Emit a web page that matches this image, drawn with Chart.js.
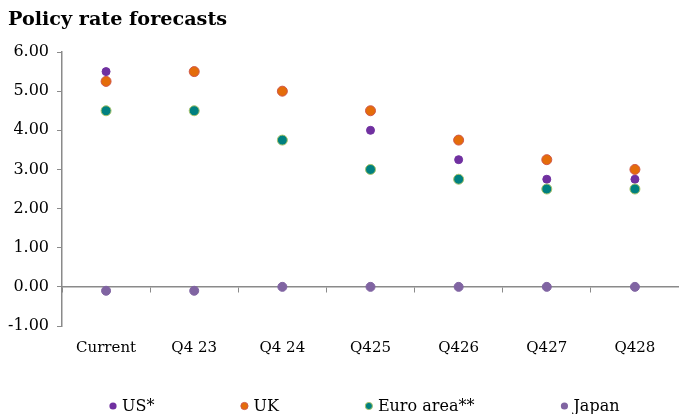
<!DOCTYPE html>
<html>
<head>
<meta charset="utf-8">
<script src="https://cdn.jsdelivr.net/npm/chart.js@4/dist/chart.umd.min.js"></script>
<style>
  html, body { margin: 0; padding: 0; background: #ffffff; }
  #wrap { width: 679px; height: 414px; position: relative; }
</style>
</head>
<body>
<div id="wrap"><canvas id="chart"></canvas></div>
<script>
// Policy rate forecasts, % (quarter-end)
const categories = ['Current', 'Q4 23', 'Q4 24', 'Q425', 'Q426', 'Q427', 'Q428'];
const us        = [5.5, 5.5, 5.0, 4.0, 3.25, 2.75, 2.75];
const uk        = [5.25, 5.5, 5.0, 4.5, 3.75, 3.25, 3.0];
const euroArea  = [4.5, 4.5, 3.75, 3.0, 2.75, 2.5, 2.5];
const japan     = [-0.1, -0.1, 0, 0, 0, 0, 0];
const yTicks    = [-1, 0, 1, 2, 3, 4, 5, 6];

const AXIS = '#8a8a8a';
const SERIF = '"DejaVu Serif", serif';

const series = [
  { label: 'US*',        data: us,       fill: '#7030a0', border: '#7030a0', r: 4,   order: 4 },
  { label: 'UK',         data: uk,       fill: '#e46c0a', border: '#d0584a', r: 5,   order: 3 },
  { label: 'Euro area**',data: euroArea, fill: '#008080', border: '#a9c46a', r: 5,   order: 2 },
  { label: 'Japan',      data: japan,    fill: '#8064a2', border: '#8064a2', r: 4.5, order: 1 }
];

// Legend row under the axis labels, spaced like the printed key
const keyRow = {
  id: 'keyRow',
  afterDraw(chart) {
    const ctx = chart.ctx;
    const ca = chart.chartArea;
    const y = chart.height - 8;
    const gap = 90, textOffset = 9;
    ctx.save();
    ctx.font = '16px ' + SERIF;
    ctx.textBaseline = 'middle';
    ctx.textAlign = 'left';
    let x = ca.left + 51;
    chart.data.datasets.forEach(d => {
      ctx.beginPath();
      ctx.arc(x, y, 3.6, 0, Math.PI * 2);
      ctx.fillStyle = d.backgroundColor;
      ctx.fill();
      if (d.borderColor !== d.backgroundColor) {
        ctx.lineWidth = 1;
        ctx.strokeStyle = d.borderColor;
        ctx.stroke();
      }
      ctx.fillStyle = '#000000';
      ctx.fillText(d.label, x + textOffset, y + 1);
      x += textOffset + ctx.measureText(d.label).width + gap;
    });
    ctx.restore();
  }
};

new Chart(document.getElementById('chart'), {
  type: 'line',
  data: {
    labels: categories,
    datasets: series.map(s => ({
      label: s.label,
      data: s.data,
      showLine: false,
      backgroundColor: s.fill,
      borderColor: s.border,
      pointBackgroundColor: s.fill,
      pointBorderColor: s.border,
      pointBorderWidth: 1,
      pointRadius: s.r,
      pointHoverRadius: s.r,
      order: s.order
    }))
  },
  options: {
    responsive: true,
    maintainAspectRatio: false,
    animation: false,
    layout: { autoPadding: false, padding: { left: 8, right: -7, top: 0, bottom: 44 } },
    plugins: {
      legend: { display: false },
      tooltip: { enabled: false },
      title: {
        display: true,
        text: 'Policy rate forecasts',
        align: 'start',
        color: '#000000',
        font: { family: SERIF, size: 19.2, weight: 'bold' },
        padding: { top: 8, bottom: 21 }
      }
    },
    scales: {
      x: {
        type: 'category',
        offset: true,
        grid: { display: false, drawTicks: false },
        border: { display: false },
        ticks: {
          color: '#000000',
          font: { family: SERIF, size: 15 },
          padding: 13,
          maxRotation: 0,
          autoSkip: false
        }
      },
      xZero: {
        type: 'category',
        position: { y: 0 },
        offset: true,
        grid: {
          offset: true,
          drawOnChartArea: false,
          drawTicks: true,
          tickLength: 5,
          color: AXIS,
          lineWidth: 1
        },
        border: { display: true, color: AXIS, width: 1.5 },
        ticks: { display: false }
      },
      y: {
        min: -1,
        max: 6,
        afterBuildTicks(scale) { scale.ticks = yTicks.map(v => ({ value: v })); },
        afterFit(scale) { scale.width = 54; },
        grid: {
          drawOnChartArea: false,
          drawTicks: true,
          tickLength: 5,
          color: AXIS,
          lineWidth: 1
        },
        border: { display: true, color: AXIS, width: 1.5 },
        ticks: {
          color: '#000000',
          font: { family: SERIF, size: 16 },
          padding: 8,
          callback: v => Number(v).toFixed(2)
        }
      }
    }
  },
  plugins: [keyRow]
});
</script>
</body>
</html>
